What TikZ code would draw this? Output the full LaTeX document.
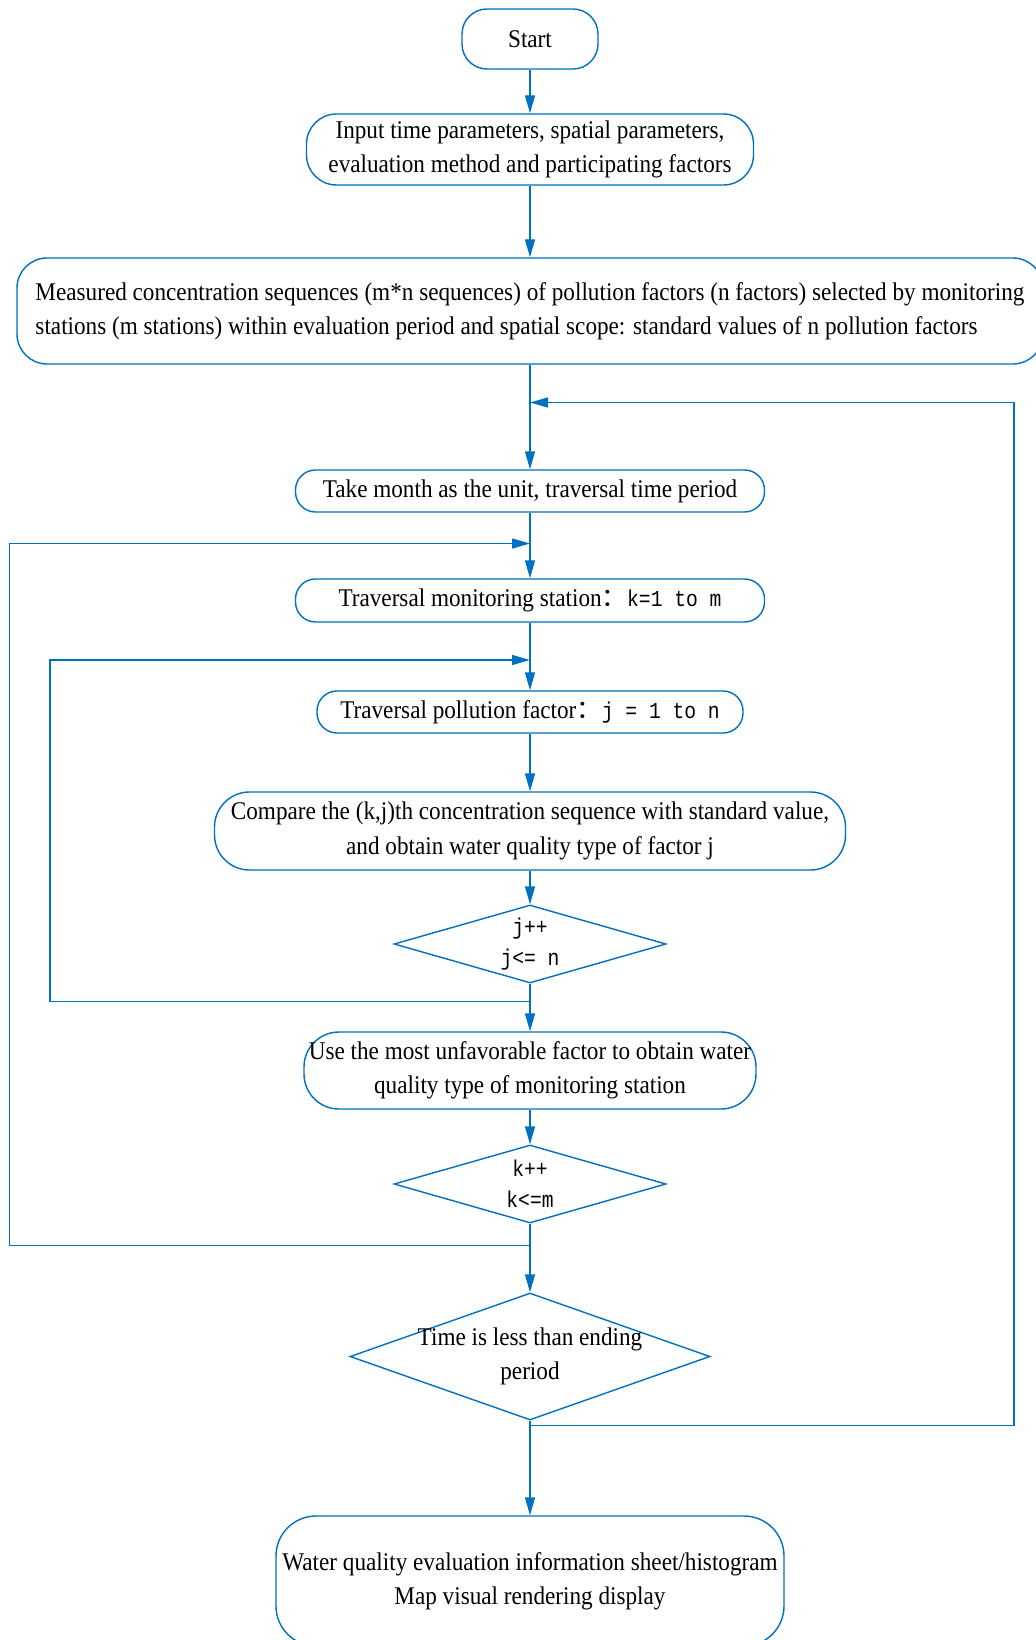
\documentclass[tikz,border=0pt]{standalone}
\usepackage{fontspec}
\setmainfont{Liberation Serif}[FakeStretch=0.91]
\newfontfamily\monof{Liberation Mono}[FakeStretch=0.86]
\newfontfamily\cjk{Noto Sans CJK SC}
\usetikzlibrary{shapes.geometric, arrows.meta, calc}
\definecolor{azul}{HTML}{0070C0}
\newcommand{\letramono}{\monof\fontsize{13}{17.6}\selectfont}
\newcommand{\letratexto}{\fontsize{14.5}{19.6}\selectfont}
\tikzset{
  proceso/.style={rectangle, rounded corners=0.6cm, draw=azul, line width=0.8pt,
                  text centered, align=center, inner sep=2pt, font=\letratexto},
  decision/.style={diamond, draw=azul, line width=0.8pt, aspect=2.8, inner sep=-3pt,
                   text centered, align=center, font=\letratexto},
  arrow/.style={line width=0.8pt, ->, >={Triangle[length=3.6mm,width=2mm]}, color=azul}
}
\begin{document}
\begin{tikzpicture}
  \useasboundingbox (0,0) rectangle (20.7,-32.8);
  \node (st) [proceso, rounded corners=0.5cm, minimum width=2.72cm, minimum height=1.2cm] at (10.6,-0.78) {Start};
  \node (f1) [proceso, minimum width=8.94cm, minimum height=1.42cm] at (10.6,-2.99) {Input time parameters, spatial parameters,\\ evaluation method and participating factors};
  \node (f2) [proceso, align=left, minimum width=20.52cm, minimum height=2.12cm] at (10.6,-6.22) {Measured concentration sequences (m*n sequences) of pollution factors (n factors) selected by monitoring\\ stations (m stations) within evaluation period and spatial scope: standard values of n pollution factors};
  \node (f3) [proceso, rounded corners=0.4cm, minimum width=9.38cm, minimum height=0.84cm] at (10.6,-9.82) {Take month as the unit, traversal time period};
  \node (f4) [proceso, rounded corners=0.4cm, minimum width=9.38cm, minimum height=0.86cm] at (10.6,-12.01) {Traversal monitoring station{\cjk ：}{\letramono k=1 to m}};
  \node (f5) [proceso, rounded corners=0.4cm, minimum width=8.52cm, minimum height=0.84cm] at (10.6,-14.24) {Traversal pollution factor{\cjk ：}{\letramono j = 1 to n}};
  \node (f6) [proceso, rounded corners=0.7cm, minimum width=12.62cm, minimum height=1.56cm] at (10.6,-16.62) {Compare the (k,j)th concentration sequence with standard value,\\ and obtain water quality type of factor j};
  \node (d1) [decision, font=\letramono, minimum width=5.44cm, minimum height=1.56cm] at (10.6,-18.88) {j++\\ j<= n};
  \node (f7) [proceso, rounded corners=0.7cm, minimum width=9.04cm, minimum height=1.54cm] at (10.6,-21.41) {Use the most unfavorable factor to obtain water\\ quality type of monitoring station};
  \node (d2) [decision, font=\letramono, minimum width=5.44cm, minimum height=1.56cm] at (10.6,-23.68) {k++\\ k<=m};
  \node (d3) [decision, minimum width=7.2cm, minimum height=2.54cm] at (10.6,-27.13) {Time is less than ending\\ period};
  \node (fin) [proceso, rounded corners=0.8cm, minimum width=10.16cm, minimum height=2.6cm] at (10.6,-31.62) {Water quality evaluation information sheet/histogram\\ Map visual rendering display};
  \coordinate (der) at (20.28,-8.05);
  \coordinate (izq) at (0.19,-10.87);
  \coordinate (izq2) at (1.0,-13.2);
  \draw [arrow] (st) -- (f1); \draw [arrow] (f1) -- (f2);
  \draw [arrow] (f2) -- (f3); \draw [arrow] (f3) -- (f4);
  \draw [arrow] (f4) -- (f5); \draw [arrow] (f5) -- (f6);
  \draw [arrow] (f6) -- (d1); \draw [arrow] (d1) -- (f7);
  \draw [arrow] (f7) -- (d2); \draw [arrow] (d2) -- (d3);
  \draw [arrow] (d3) -- (fin);
  % lazos de vuelta
  \draw [arrow] (d3.south) -- ++(0,-0.1) -| (der) -- (der -| f2.south);
  \draw [arrow] (d2.south) -- ++(0,-0.44) -| (izq) -- (izq -| f4.north);
  \draw [arrow] (d1.south) -- ++(0,-0.35) -| (izq2) -- (izq2 -| f5.north);
\end{tikzpicture}
\end{document}
